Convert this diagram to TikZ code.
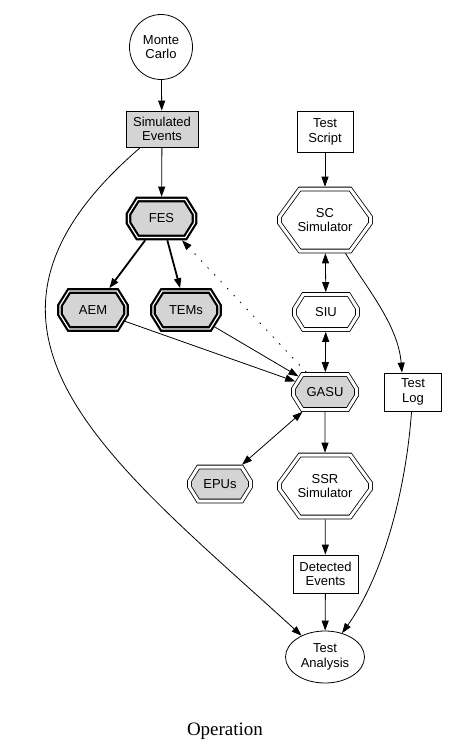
\documentclass[tikz,border=0pt]{standalone}
\usepackage{fontspec}
\setmainfont{Liberation Sans}
\newfontfamily\captionfont{Liberation Serif}
\usetikzlibrary{shapes.geometric, shapes.misc, arrows.meta}

\definecolor{fillgray}{gray}{0.83}

\begin{document}
\begin{tikzpicture}[
    x=1pt, y=-1pt,
    >={Triangle[length=10pt,width=7pt]},
    every node/.style={font=\fontsize{13}{14.5}\selectfont, align=center, inner sep=0pt},
    thin line/.style={line width=0.8pt},
    oval/.style={ellipse, draw, thin line},
    box/.style={rectangle, draw, thin line},
    octa/.style={chamfered rectangle, draw, thin line, double=white,
        double distance=3pt, outer sep=2.3pt, fill=white},
    boldocta/.style={chamfered rectangle, draw, line width=2.2pt, double=white,
        double distance=1.2pt, outer sep=2.8pt, fill=fillgray,
        minimum width=66pt, minimum height=38pt,
        chamfered rectangle angle=32,
        chamfered rectangle xsep=16pt, chamfered rectangle ysep=10pt},
    smallocta/.style={octa, minimum width=63pt, minimum height=35pt,
        chamfered rectangle angle=32,
        chamfered rectangle xsep=15pt, chamfered rectangle ysep=9.5pt},
    bigocta/.style={octa, minimum width=91pt, minimum height=62pt,
        chamfered rectangle angle=36,
        chamfered rectangle xsep=22pt, chamfered rectangle ysep=16pt}
]
\useasboundingbox (0,0) rectangle (448,752);

% Left column
\node[oval, minimum width=63pt, minimum height=65pt] (mc) at (161,47) {Monte\\Carlo};
\node[box, fill=fillgray, minimum width=72pt, minimum height=36pt] (sim) at (162,129) {Simulated\\Events};
\node[boldocta] (fes) at (161.5,218.5) {FES};
\node[boldocta] (aem) at (93,310) {AEM};
\node[boldocta] (tems) at (186,310) {TEMs};
\node[smallocta, fill=fillgray, minimum width=61pt, minimum height=34pt] (epus) at (220,484) {EPUs};

% Right column
\node[box, minimum width=56pt, minimum height=41pt] (script) at (325,132) {Test\\Script};
\node[bigocta] (sc) at (325,220) {SC\\Simulator};
\node[smallocta] (siu) at (326,312) {SIU};
\node[smallocta, fill=fillgray] (gasu) at (325,392) {GASU};
\node[box, minimum width=57pt, minimum height=38pt] (log) at (413,392) {Test\\Log};
\node[bigocta] (ssr) at (325,486) {SSR\\Simulator};
\node[box, minimum width=65pt, minimum height=38pt] (det) at (325.5,574) {Detected\\Events};
\node[oval, minimum width=79pt, minimum height=52pt] (ana) at (325,657) {Test\\Analysis};

% Caption
\node[font=\captionfont\fontsize{19}{22}\selectfont] (caption) at (225,731) {Operation};

% Straight edges
\foreach \a/\b in {mc/sim, sim/fes, script/sc, gasu/ssr, ssr/det, det/ana, aem/gasu, tems/gasu}
    \draw[->, thin line] (\a) -- (\b);
\foreach \a/\b in {sc/siu, siu/gasu, gasu/epus}
    \draw[<->, thin line] (\a) -- (\b);
\draw[->, line width=1.8pt] (fes) -- (aem);
\draw[->, line width=1.8pt] (fes) -- (tems);
\draw[->, thin line, dash pattern=on 1.5pt off 8pt] (gasu) -- (fes);

% Curved edges
\draw[->, thin line] (sim) .. controls (-70,328) and (108,459) .. (ana);
\draw[->, thin line] (sc) .. controls (368,290) and (398,325) .. ([xshift=-11pt]log.north);
\draw[->, thin line] (log) .. controls (405,500) and (380,580) .. (ana);

\end{tikzpicture}
\end{document}
